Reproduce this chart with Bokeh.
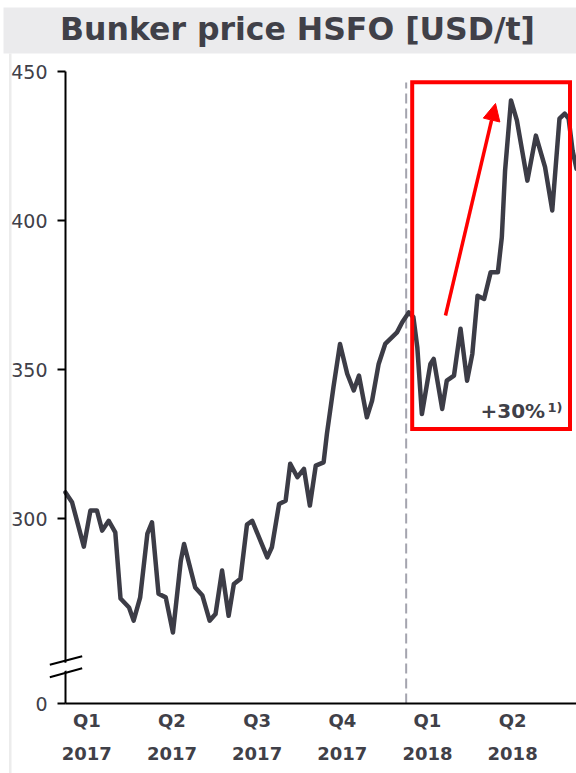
from bokeh.plotting import figure
from bokeh.models import Range1d, FixedTicker, LinearAxis, Arrow, NormalHead
from bokeh.core.properties import value
from bokeh.embed import file_html
from bokeh.resources import INLINE

# ---- data -------------------------------------------------------------
TITLE = "Bunker price HSFO [USD/t]"

# weeks since 1 Jan 2017
weeks = [0.0, 1.0, 2.8, 3.8, 4.8, 5.6, 6.6, 7.6, 8.4, 9.7, 10.4, 11.4, 12.5,
         13.2, 14.2, 15.3, 16.4, 17.6, 18.1, 19.8, 20.9, 22.0, 22.9, 23.9,
         24.9, 25.7, 26.7, 27.7, 28.5, 30.8, 31.5, 32.6, 33.6, 34.3, 35.4,
         36.4, 37.3, 38.2, 39.4, 39.9, 40.9, 41.9, 43.0, 44.0, 44.8, 46.0,
         46.8, 47.8, 48.8, 50.6, 51.4, 52.4, 53.1, 53.7, 54.4, 55.7, 56.2,
         57.5, 58.2, 59.3, 60.3, 61.3, 62.1, 62.9, 63.9, 64.9, 66.0, 66.6,
         67.1, 68.0, 68.9, 70.5, 71.8, 73.2, 74.3, 75.4, 76.2, 76.8, 77.4,
         78.0]

# HSFO bunker price, USD per tonne
price = [308.8, 305.5, 290.6, 302.7, 302.7, 296.0, 299.3, 295.4, 273.2,
         270.2, 265.8, 273.6, 295.0, 298.8, 274.8, 273.6, 261.8, 285.9,
         291.5, 276.9, 274.2, 265.8, 268.0, 282.6, 267.4, 278.1, 279.8,
         298.0, 299.3, 287.0, 290.4, 304.9, 306.0, 318.4, 313.9, 316.7,
         304.4, 317.8, 318.9, 328.4, 344.1, 358.6, 348.6, 343.0, 348.0,
         334.0, 339.6, 351.9, 358.6, 362.5, 365.9, 369.2, 367.6, 357.5,
         335.1, 351.9, 353.6, 336.8, 346.3, 348.0, 363.7, 346.3, 355.3,
         374.8, 373.7, 382.7, 382.7, 394.4, 416.8, 440.3, 433.6, 413.4,
         428.5, 417.9, 403.4, 434.2, 435.9, 434.2, 423.5, 417.4]

quarter_ticks = [3.25, 16.25, 29.25, 42.25, 55.25, 68.25]
quarter_labels = ["Q1", "Q2", "Q3", "Q4", "Q1", "Q2"]
year_labels = ["2017", "2017", "2017", "2017", "2018", "2018"]
price_ticks = [300, 350, 400, 450]
axis_floor = 238          # broken axis: the bottom of the axis stands for 0
week_end = 78             # end of Q2 2018
year_start_2018 = 52      # week at which 2018 begins
change_label = "+30%"
change_note = "1)"

# ---- canvas geometry --------------------------------------------------
W, H = 576, 773
AX_LEFT, AX_TOP, AX_BOTTOM = 65, 71, 703      # pixel position of the axes
SX = week_end / (W - AX_LEFT)                 # weeks per pixel
SY = (price_ticks[-1] - axis_floor) / (AX_BOTTOM - AX_TOP)   # USD per pixel
X0 = -AX_LEFT * SX
Y_TOP = price_ticks[-1] + AX_TOP * SY
Y_BOT = axis_floor - (H - AX_BOTTOM) * SY


def gx(px):
    """canvas pixel column -> week"""
    return X0 + px * SX


def gy(py):
    """canvas pixel row -> price"""
    return Y_TOP - py * SY


# ---- styling ----------------------------------------------------------
FONT = "DejaVu Sans"
INK = "#404048"
LINE = "#3c3c46"
RED = "#ff0000"
BAND = "#ebebed"
EDGE = "#ececec"


def overrides(ticks, labels):
    d = {}
    for t, lab in zip(ticks, labels):
        d[t] = lab
        d[str(t)] = lab
    return d


p = figure(width=W, height=H, x_range=Range1d(X0, week_end), y_range=Range1d(Y_BOT, Y_TOP),
           toolbar_location=None, output_backend="svg", min_border=0,
           outline_line_color=None, x_axis_location=None, y_axis_location=None)
p.xgrid.visible = False
p.ygrid.visible = False

# title band and faint page edge
p.quad(left=[gx(3)], right=[gx(W)], top=[gy(7)], bottom=[gy(53)],
       fill_color=BAND, line_color=None)
p.quad(left=[gx(8.5)], right=[gx(11)], top=[gy(53)], bottom=[gy(H)],
       fill_color=EDGE, line_color=None)
p.text(x=[gx(297)], y=[gy(28)], text=[TITLE], text_font=value(FONT),
       text_font_style="bold", text_font_size="31.5px", text_color=INK,
       text_align="center", text_baseline="alphabetic")

# axes
yaxis = LinearAxis(ticker=FixedTicker(ticks=[axis_floor] + price_ticks),
                   major_label_overrides=overrides([axis_floor], ["0"]),
                   fixed_location=0, bounds=(axis_floor, price_ticks[-1]),
                   axis_line_color="black", axis_line_width=2,
                   major_tick_line_color="black", major_tick_line_width=2,
                   major_tick_out=8, major_tick_in=0, minor_tick_line_color=None,
                   major_label_standoff=10, major_label_text_font=FONT,
                   major_label_text_font_size="19px", major_label_text_color=INK)
p.add_layout(yaxis, "left")

qaxis = LinearAxis(ticker=FixedTicker(ticks=quarter_ticks),
                   major_label_overrides=overrides(quarter_ticks, quarter_labels),
                   fixed_location=axis_floor, bounds=(0, week_end),
                   axis_line_color="black", axis_line_width=2,
                   major_tick_line_color=None, minor_tick_line_color=None,
                   major_tick_out=0, major_tick_in=0, major_label_standoff=6,
                   major_label_text_font=FONT, major_label_text_font_style="bold",
                   major_label_text_font_size="18px", major_label_text_color=INK)
p.add_layout(qaxis, "below")

yraxis = LinearAxis(ticker=FixedTicker(ticks=quarter_ticks),
                    major_label_overrides=overrides(quarter_ticks, year_labels),
                    fixed_location=axis_floor, bounds=(0, week_end),
                    axis_line_color=None, major_tick_line_color=None,
                    minor_tick_line_color=None, major_tick_out=0, major_tick_in=0,
                    major_label_standoff=43, major_label_text_font=FONT,
                    major_label_text_font_style="bold",
                    major_label_text_font_size="18px", major_label_text_color=INK)
p.add_layout(yraxis, "below")

# start of 2018
p.segment(x0=[year_start_2018], y0=[axis_floor], x1=[year_start_2018], y1=[gy(82)],
          line_color="#a4a4ae", line_width=2, line_dash="10 5")

p.line(weeks, price, line_color=LINE, line_width=4.5, line_join="round", line_cap="round")

# highlighted 2018 period
p.quad(left=[gx(411.7)], right=[gx(569.5)], top=[gy(81.7)], bottom=[gy(428.5)],
       fill_color=None, line_color=RED, line_width=4, line_join="miter")
p.add_layout(Arrow(x_start=gx(445), y_start=gy(315), x_end=gx(495), y_end=gy(103),
                   line_color=RED, line_width=3.5,
                   end=NormalHead(size=17, fill_color=RED, line_color=RED, line_width=1)))
p.text(x=[gx(480)], y=[gy(410.3)], text=[change_label], text_font=value(FONT),
       text_font_style="bold", text_font_size="20px", text_color=INK,
       text_align="left", text_baseline="alphabetic")
p.text(x=[gx(547)], y=[gy(406.5)], text=[change_note], text_font=value(FONT),
       text_font_style="bold", text_font_size="13px", text_color=INK,
       text_align="left", text_baseline="alphabetic")

# axis break marks, drawn above the axis line
p.patch(x=[gx(61), gx(69), gx(69), gx(61)],
        y=[gy(671), gy(669.5), gy(661.5), gy(663)],
        fill_color="white", line_color=None, level="overlay")
p.segment(x0=[gx(49.3), gx(49.3)], y0=[gy(664.3), gy(676.7)],
          x1=[gx(81.7), gx(81.7)], y1=[gy(655.7), gy(667.7)],
          line_color="black", line_width=2, level="overlay")

open("out.html", "w").write(file_html(p, INLINE))
